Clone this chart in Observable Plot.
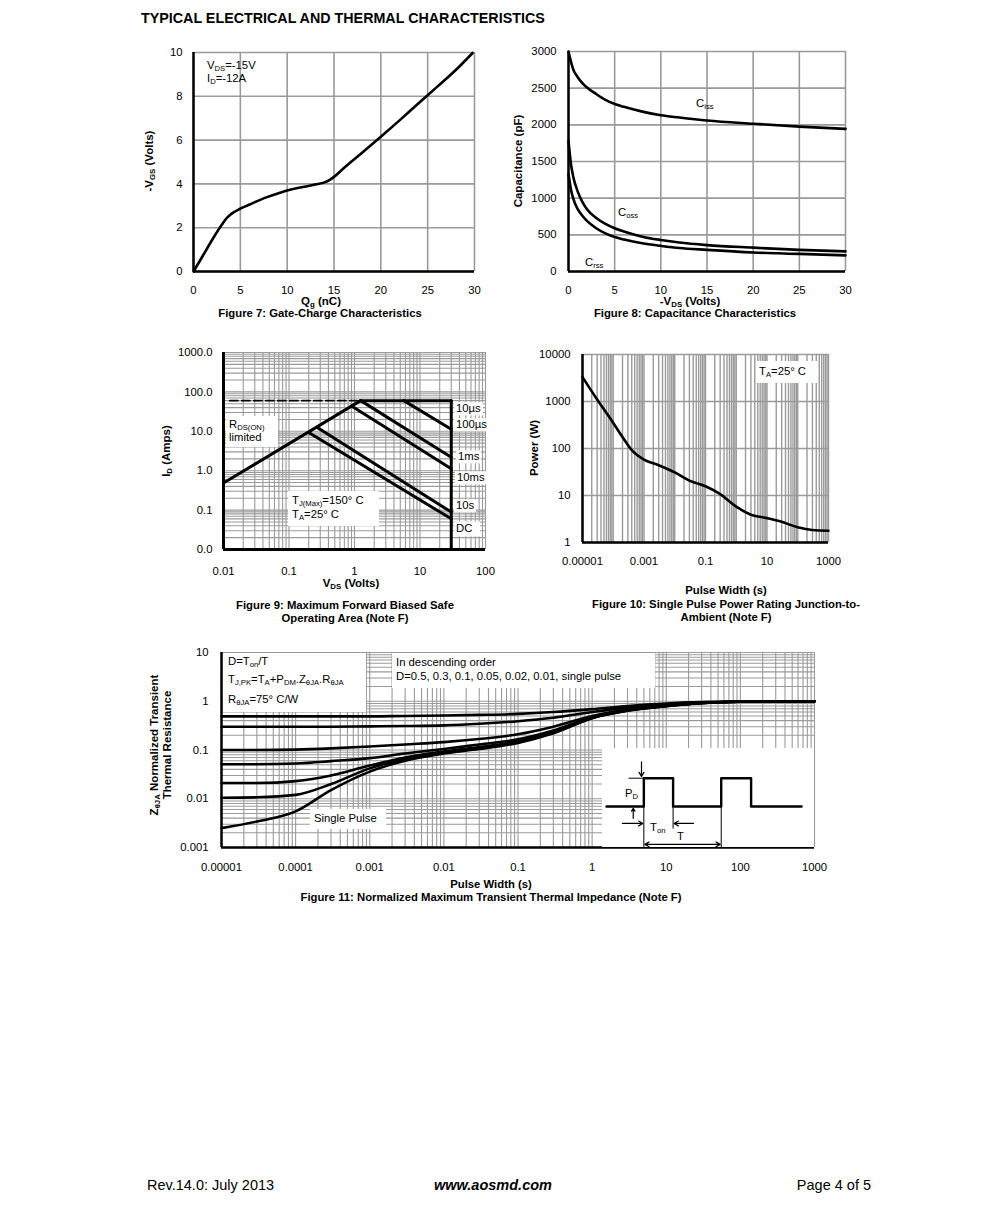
<!DOCTYPE html>
<html><head><meta charset="utf-8">
<script src="https://cdn.jsdelivr.net/npm/d3@7"></script>
<script src="https://cdn.jsdelivr.net/npm/@observablehq/plot@0.6"></script>
<style>
html,body{margin:0;padding:0;background:#fff;}
#page{position:relative;width:991px;height:1215px;overflow:hidden;font-family:"Liberation Sans",Arial,Helvetica,sans-serif;color:#000;}
.t{position:absolute;white-space:nowrap;line-height:1;}
.s{font-size:0.68em;vertical-align:-0.28em;line-height:0;}
.bx{position:absolute;background:#fff;}
</style></head>
<body><div id="page"></div>
<script>
// ---------------- DATA ----------------
// Figure 7: gate charge
const qg  = [0, 1, 2, 3, 3.5, 4, 5, 6, 7, 8, 9, 10, 11, 12, 13, 14, 14.5, 15, 16, 18, 20, 22, 24, 26, 28, 29.8];
const vgs = [0, 0.72, 1.45, 2.12, 2.42, 2.62, 2.87, 3.06, 3.25, 3.42, 3.56, 3.7, 3.8, 3.88, 3.97, 4.07, 4.17, 4.32, 4.7, 5.42, 6.15, 6.9, 7.67, 8.43, 9.2, 9.98];
const f7xTicks = [0, 5, 10, 15, 20, 25, 30];
const f7yTicks = [0, 2, 4, 6, 8, 10];

// Figure 8: capacitance
const vds8 = [0, 0.25, 0.5, 1, 1.5, 2, 3, 4, 5, 6, 8, 10, 12, 15, 20, 25, 30];
const ciss = [3000, 2870, 2760, 2650, 2570, 2510, 2420, 2340, 2285, 2245, 2180, 2130, 2100, 2060, 2015, 1975, 1945];
const coss = [1780, 1480, 1300, 1090, 950, 850, 730, 650, 590, 545, 475, 430, 395, 360, 325, 295, 275];
const crss = [1330, 1130, 1000, 850, 760, 690, 590, 520, 470, 435, 385, 350, 320, 295, 260, 240, 220];
const f8xTicks = [0, 5, 10, 15, 20, 25, 30];
const f8yTicks = [0, 500, 1000, 1500, 2000, 2500, 3000];

// Figure 9: safe operating area (V, A)
const soaNames = ["RDS(ON) limit", "Current limit", "VDS limit", "10us", "100us", "1ms", "10s", "DC"];
const soaV = [[0.01, 1.24], [1.24, 30], [30, 30], [5.66, 30], [1.24, 30], [0.9, 30], [0.27, 30], [0.2, 30]];
const soaI = [[0.485, 60], [60, 60], [60, 0.01], [60, 11.3], [60, 2.2], [43.7, 1.12], [12.5, 0.089], [9.3, 0.06]];
const soaDashV = [0.0125, 1.24];
const soaDashI = [60, 60];
const f9xTicks = [0.01, 0.1, 1, 10, 100];
const f9yTicks = [0.01, 0.1, 1, 10, 100, 1000];

// Figure 10: single pulse power
const tp10 = [1e-5, 3e-5, 1e-4, 2e-4, 4e-4, 1e-3, 3e-3, 1e-2, 3e-2, 0.1, 0.3, 1, 3, 10, 30, 100, 300, 1000];
const pw10 = [3300, 1100, 350, 175, 92, 58, 44, 31, 20.7, 15.7, 10.7, 5.8, 3.9, 3.3, 2.75, 2.1, 1.84, 1.78];
const f10xTicks = [1e-5, 1e-3, 0.1, 10, 1000];
const f10yTicks = [1, 10, 100, 1000, 10000];

// Figure 11: normalized transient thermal impedance
const tp11 = [1e-5, 3e-5, 1e-4, 3e-4, 1e-3, 3e-3, 1e-2, 3e-2, 0.1, 0.3, 1, 3, 10, 30, 100, 300, 1000];
const zD050 = [0.49, 0.49, 0.49, 0.49, 0.49, 0.50, 0.51, 0.525, 0.55, 0.60, 0.69, 0.80, 0.90, 0.96, 0.99, 1.0, 1.0];
const zD030 = [0.30, 0.30, 0.30, 0.30, 0.305, 0.31, 0.32, 0.345, 0.39, 0.46, 0.60, 0.74, 0.87, 0.95, 0.99, 1.0, 1.0];
const zD010 = [0.10, 0.10, 0.102, 0.108, 0.118, 0.13, 0.145, 0.168, 0.21, 0.30, 0.50, 0.68, 0.83, 0.93, 0.98, 1.0, 1.0];
const zD005 = [0.051, 0.051, 0.053, 0.059, 0.068, 0.085, 0.105, 0.13, 0.165, 0.25, 0.47, 0.66, 0.81, 0.92, 0.98, 1.0, 1.0];
const zD002 = [0.021, 0.021, 0.023, 0.03, 0.048, 0.07, 0.093, 0.115, 0.15, 0.23, 0.46, 0.65, 0.80, 0.92, 0.98, 1.0, 1.0];
const zD001 = [0.0105, 0.0107, 0.012, 0.02, 0.042, 0.065, 0.089, 0.11, 0.145, 0.225, 0.455, 0.645, 0.80, 0.92, 0.98, 1.0, 1.0];
const zSingle = [0.0025, 0.0034, 0.0055, 0.015, 0.036, 0.06, 0.085, 0.105, 0.14, 0.22, 0.45, 0.64, 0.79, 0.91, 0.98, 1.0, 1.0];
const f11Series = ["D=0.5", "D=0.3", "D=0.1", "D=0.05", "D=0.02", "D=0.01", "Single Pulse"];
const f11xTicks = [1e-5, 1e-4, 1e-3, 1e-2, 0.1, 1, 10, 100, 1000];
const f11yTicks = [0.001, 0.01, 0.1, 1, 10];

// Figure 11 inset: duty-cycle pulse sketch (schematic units)
const pulseT = [0.19, 1.95, 1.95, 3.33, 3.33, 5.6, 5.6, 7.01, 7.01, 9.39];
const pulseP = [0, 0, 1, 1, 0, 0, 1, 1, 0, 0];

// ---------------- HELPERS ----------------
const FONT = "'Liberation Sans', Arial, Helvetica, sans-serif";
const GRID = "#9a9a9a";
const TS = 11.3;   // base text size
const page = document.getElementById("page");
const ML = 60, MR = 20, MT = 10, MB = 30;

function base(W, H) {
  return {
    width: W + ML + MR, height: H + MT + MB,
    marginLeft: ML, marginRight: MR, marginTop: MT, marginBottom: MB,
    style: {fontFamily: FONT, fontSize: TS + "px", background: "transparent", overflow: "visible", color: "#000"}
  };
}
function mount(svg, L, T, ml = ML, mt = MT) {
  svg.style.position = "absolute";
  svg.style.left = (L - ml) + "px";
  svg.style.top = (T - mt) + "px";
  page.appendChild(svg);
}
function logMinor(lo, hi) {
  const out = [];
  for (let e = lo; e < hi; e++) for (let m = 1; m < 10; m++) out.push(+(m * Math.pow(10, e)).toPrecision(6));
  out.push(Math.pow(10, hi));
  return out;
}
function decFmt(d) {
  return d >= 1 ? String(Math.round(d)) : d.toFixed(Math.round(-Math.log10(d)));
}
function txt(html, x, y, o = {}) {
  const d = document.createElement("div");
  d.className = "t";
  d.innerHTML = html;
  d.style.left = x + "px";
  d.style.top = y + "px";
  d.style.fontSize = (o.size || TS) + "px";
  if (o.bold) d.style.fontWeight = "bold";
  if (o.italic) d.style.fontStyle = "italic";
  const ax = o.anchor === "middle" ? "-50%" : o.anchor === "end" ? "-100%" : "0";
  d.style.transform = o.rotate ? "translate(-50%,-50%) rotate(-90deg)" : `translate(${ax},-50%)`;
  if (o.bg) { d.style.background = "#fff"; d.style.padding = o.pad || "1px 2px"; }
  page.appendChild(d);
  return d;
}
function box(x, y, w, h) {
  const d = document.createElement("div");
  d.className = "bx";
  d.style.left = x + "px"; d.style.top = y + "px"; d.style.width = w + "px"; d.style.height = h + "px";
  page.appendChild(d);
}
const S = s => `<span class="s">${s}</span>`;
const plain = d => String(d);

// ---------------- FIGURE 7 ----------------
const gateRows = qg.map((q, i) => ({q, v: vgs[i]}));
mount(Plot.plot({
  ...base(281, 219),
  x: {domain: [0, 30]}, y: {domain: [0, 10]},
  marks: [
    Plot.ruleX(f7xTicks, {stroke: GRID, strokeWidth: 1.6}),
    Plot.ruleY(f7yTicks, {stroke: GRID, strokeWidth: 1.6}),
    Plot.axisX({ticks: f7xTicks, tickFormat: plain, tickSize: 0, tickPadding: 14, label: null}),
    Plot.axisY({ticks: f7yTicks, tickFormat: plain, tickSize: 0, tickPadding: 11, label: null}),
    Plot.ruleX([0], {stroke: "#000", strokeWidth: 2.5}),
    Plot.ruleY([0], {stroke: "#000", strokeWidth: 2.5}),
    Plot.line(gateRows, {x: "q", y: "v", stroke: "#000", strokeWidth: 2.6, curve: "monotone-x"})
  ]
}), 193, 52);

// ---------------- FIGURE 8 ----------------
const capRows = [];
vds8.forEach((v, i) => {
  capRows.push({v, c: ciss[i], s: "Ciss"});
  capRows.push({v, c: coss[i], s: "Coss"});
  capRows.push({v, c: crss[i], s: "Crss"});
});
mount(Plot.plot({
  ...base(277, 220),
  x: {domain: [0, 30]}, y: {domain: [0, 3000]},
  marks: [
    Plot.ruleX(f8xTicks, {stroke: GRID, strokeWidth: 1.6}),
    Plot.ruleY(f8yTicks, {stroke: GRID, strokeWidth: 1.6}),
    Plot.axisX({ticks: f8xTicks, tickFormat: plain, tickSize: 0, tickPadding: 14, label: null}),
    Plot.axisY({ticks: f8yTicks, tickFormat: plain, tickSize: 0, tickPadding: 12, label: null}),
    Plot.ruleX([0], {stroke: "#000", strokeWidth: 2.5}),
    Plot.ruleY([0], {stroke: "#000", strokeWidth: 2.5}),
    Plot.line(capRows, {x: "v", y: "c", z: "s", stroke: "#000", strokeWidth: 2.6, curve: "monotone-x"})
  ]
}), 568, 51);

// ---------------- FIGURE 9 ----------------
const soaRows = [];
soaNames.forEach((n, k) => soaV[k].forEach((v, j) => soaRows.push({n, v, i: soaI[k][j]})));
const dashRows = soaDashV.map((v, j) => ({v, i: soaDashI[j]}));
mount(Plot.plot({
  ...base(262, 197),
  x: {type: "log", domain: [0.01, 100]},
  y: {type: "log", domain: [0.01, 1000]},
  marks: [
    Plot.ruleX(logMinor(-2, 2), {stroke: GRID, strokeWidth: 1.1}),
    Plot.ruleY(logMinor(-2, 3), {stroke: GRID, strokeWidth: 1.1}),
    Plot.axisX({ticks: f9xTicks, tickFormat: decFmt, tickSize: 0, tickPadding: 17, label: null}),
    Plot.axisY({ticks: f9yTicks, tickFormat: d => d < 0.05 ? "0.0" : d.toFixed(1), tickSize: 0, tickPadding: 11, label: null}),
    Plot.ruleX([0.01], {stroke: "#000", strokeWidth: 3}),
    Plot.ruleY([0.01], {stroke: "#000", strokeWidth: 3}),
    Plot.line(dashRows, {x: "v", y: "i", stroke: "#000", strokeWidth: 1.8, strokeDasharray: "8,4"}),
    Plot.line(soaRows, {x: "v", y: "i", z: "n", stroke: "#000", strokeWidth: 3})
  ]
}), 223, 352);

// ---------------- FIGURE 10 ----------------
const powRows = tp10.map((t, i) => ({t, p: pw10[i]}));
mount(Plot.plot({
  ...base(246, 188),
  x: {type: "log", domain: [1e-5, 1000]},
  y: {type: "log", domain: [1, 10000]},
  marks: [
    Plot.ruleX(logMinor(-5, 3), {stroke: GRID, strokeWidth: 1.4}),
    Plot.ruleY(f10yTicks, {stroke: GRID, strokeWidth: 1.6}),
    Plot.axisX({ticks: f10xTicks, tickFormat: decFmt, tickSize: 0, tickPadding: 14, label: null}),
    Plot.axisY({ticks: f10yTicks, tickFormat: decFmt, tickSize: 0, tickPadding: 12, label: null}),
    Plot.ruleX([1e-5], {stroke: "#000", strokeWidth: 2.5}),
    Plot.ruleY([1], {stroke: "#000", strokeWidth: 2.5}),
    Plot.line(powRows, {x: "t", y: "p", stroke: "#000", strokeWidth: 2.6, curve: "monotone-x"})
  ]
}), 582, 354);

// ---------------- FIGURE 11 ----------------
const f11Vals = [zD050, zD030, zD010, zD005, zD002, zD001, zSingle];
const zRows = [];
f11Series.forEach((s, k) => tp11.forEach((t, i) => zRows.push({s, t, z: f11Vals[k][i]})));
mount(Plot.plot({
  ...base(593, 195),
  x: {type: "log", domain: [1e-5, 1000]},
  y: {type: "log", domain: [0.001, 10]},
  marks: [
    Plot.ruleX(logMinor(-5, 3), {stroke: GRID, strokeWidth: 1.1}),
    Plot.ruleY(logMinor(-3, 1), {stroke: GRID, strokeWidth: 1.1}),
    Plot.axisX({ticks: f11xTicks, tickFormat: decFmt, tickSize: 0, tickPadding: 15, label: null}),
    Plot.axisY({ticks: f11yTicks, tickFormat: decFmt, tickSize: 0, tickPadding: 13, label: null}),
    Plot.ruleX([1e-5], {stroke: "#000", strokeWidth: 2.5}),
    Plot.ruleY([0.001], {stroke: "#000", strokeWidth: 2.5}),
    Plot.line(zRows, {x: "t", y: "z", z: "s", stroke: "#000", strokeWidth: 2.6, curve: "monotone-x"})
  ]
}), 221, 652);

// inset pulse sketch
const pulseRows = pulseT.map((t, i) => ({t, p: pulseP[i]}));
const insetArrows = [
  {x1: 1.84, y1: 1.58, x2: 1.84, y2: 1.06},
  {x1: 1.45, y1: -0.42, x2: 1.45, y2: -0.06},
  {x1: 0.94, y1: -0.6, x2: 1.9, y2: -0.6},
  {x1: 4.29, y1: -0.6, x2: 3.38, y2: -0.6},
  {x1: 3.8, y1: -1.34, x2: 2.0, y2: -1.34},
  {x1: 3.8, y1: -1.34, x2: 5.55, y2: -1.34}
];
const insetLines = [
  {x1: 1.23, y1: 1, x2: 1.95, y2: 1},
  {x1: 1.95, y1: 0, x2: 1.95, y2: -1.45},
  {x1: 3.33, y1: 0, x2: 3.33, y2: -0.78},
  {x1: 5.6, y1: 0, x2: 5.6, y2: -1.45}
];
mount(Plot.plot({
  width: 212, height: 99, margin: 0,
  style: {background: "#fff", overflow: "visible", fontFamily: FONT},
  x: {domain: [0, 10], axis: null}, y: {domain: [-1.45, 2.05], axis: null},
  marks: [
    Plot.link(insetLines, {x1: "x1", y1: "y1", x2: "x2", y2: "y2", stroke: "#000", strokeWidth: 1}),
    Plot.arrow(insetArrows, {x1: "x1", y1: "y1", x2: "x2", y2: "y2", stroke: "#000", strokeWidth: 1.2, headLength: 6}),
    Plot.line(pulseRows, {x: "t", y: "p", stroke: "#000", strokeWidth: 2.4})
  ]
}), 602, 748, 0, 0);

// ---------------- TEXT ----------------
const AT = 11.5; // axis title size
txt("TYPICAL ELECTRICAL AND THERMAL CHARACTERISTICS", 141, 18, {size: 14.3, bold: true});

// Fig 7
txt(`V${S("DS")}=-15V`, 207, 66);
txt(`I${S("D")}=-12A`, 207, 79);
txt(`-V${S("GS")} (Volts)`, 150, 161, {bold: true, rotate: true, size: AT});
txt(`Q${S("g")} (nC)`, 321, 301.5, {bold: true, anchor: "middle", size: AT});
txt("Figure 7: Gate-Charge Characteristics", 320, 314, {bold: true, anchor: "middle"});

// Fig 8
txt(`C${S("iss")}`, 696, 104);
txt(`C${S("oss")}`, 618, 213);
txt(`C${S("rss")}`, 585, 263);
txt("Capacitance (pF)", 519, 161, {bold: true, rotate: true, size: AT});
txt(`-V${S("DS")} (Volts)`, 690, 301.5, {bold: true, anchor: "middle", size: AT});
txt("Figure 8: Capacitance Characteristics", 695, 314, {bold: true, anchor: "middle"});

// Fig 9
box(226, 416, 52, 31);
txt(`R${S("DS(ON)")}`, 229, 425);
txt("limited", 229, 438);
box(288, 491, 91, 35);
txt(`T${S("J(Max)")}=150° C`, 292, 501);
txt(`T${S("A")}=25° C`, 292, 515);
txt("10µs", 454, 409, {bg: true});
txt("100µs", 454, 425, {bg: true});
txt("1ms", 456, 457, {bg: true});
txt("10ms", 455, 478, {bg: true});
txt("10s", 454, 506, {bg: true});
txt("DC", 454, 529, {bg: true, pad: "2px 8px 2px 2px"});
txt(`I${S("D")} (Amps)`, 167, 451, {bold: true, rotate: true, size: AT});
txt(`V${S("DS")} (Volts)`, 351, 584, {bold: true, anchor: "middle", size: AT});
txt("Figure 9: Maximum Forward Biased Safe", 345, 606, {bold: true, anchor: "middle"});
txt("Operating Area (Note F)", 345, 619, {bold: true, anchor: "middle"});

// Fig 10
box(756, 361, 61, 22);
txt(`T${S("A")}=25° C`, 759, 372);
txt("Power (W)", 535, 448, {bold: true, rotate: true, size: AT});
txt("Pulse Width (s)", 726, 591, {bold: true, anchor: "middle"});
txt("Figure 10: Single Pulse Power Rating Junction-to-", 726, 605, {bold: true, anchor: "middle"});
txt("Ambient (Note F)", 726, 618, {bold: true, anchor: "middle"});

// Fig 11
box(223, 653, 143, 59);
txt(`D=T${S("on")}/T`, 228, 662);
txt(`T${S("J,PK")}=T${S("A")}+P${S("DM")}.Z${S("θJA")}.R${S("θJA")}`, 228, 680);
txt(`R${S("θJA")}=75° C/W`, 228, 700);
box(392, 653, 263, 35);
txt("In descending order", 396, 663);
txt("D=0.5, 0.3, 0.1, 0.05, 0.02, 0.01, single pulse", 396, 677);
box(310, 809, 76, 20);
txt("Single Pulse", 314, 819);
txt(`P${S("D")}`, 625, 794);
txt(`T${S("on")}`, 650, 828);
txt("T", 677, 837);
txt(`Z${S("θJA")} Normalized Transient`, 155, 745, {bold: true, rotate: true, size: AT});
txt("Thermal Resistance", 168, 745, {bold: true, rotate: true, size: AT});
txt("Pulse Width (s)", 491, 885, {bold: true, anchor: "middle"});
txt("Figure 11: Normalized Maximum Transient Thermal Impedance (Note F)", 491, 898, {bold: true, anchor: "middle"});

// Footer
txt("Rev.14.0: July 2013", 147, 1185, {size: 14.5});
txt("www.aosmd.com", 493, 1185, {size: 14.5, bold: true, italic: true, anchor: "middle"});
txt("Page 4 of 5", 871, 1185, {size: 14.5, anchor: "end"});
</script>
</body></html>
